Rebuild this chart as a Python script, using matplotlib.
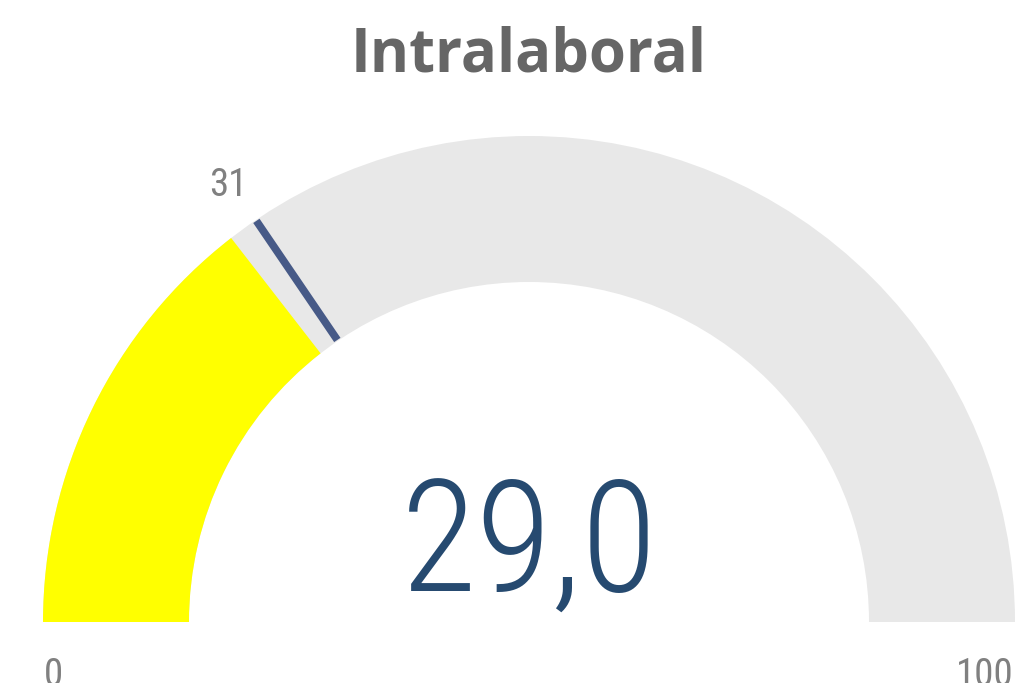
import matplotlib
matplotlib.use("Agg")
import matplotlib.pyplot as plt
from matplotlib import font_manager
from matplotlib.patches import Wedge
import numpy as np

# --- dati del gauge ---
titolo = "Intralaboral"
valore = 29.0
obiettivo = 31
minimo, massimo = 0, 100

# --- geometria (in pixel) ---
W, H = 1016, 683
cx, cy = 529, H - 622
r_out, r_in = 486, 340

nomi = sorted({f.name for f in font_manager.fontManager.ttflist})
stretti = [n for n in ["Roboto Condensed", "Liberation Sans Narrow", "Open Sans Condensed"] if n in nomi]
font_num = stretti[0] if stretti else "Roboto"

def angolo(v):
    return 180 - (v - minimo) / (massimo - minimo) * 180

fig = plt.figure(figsize=(W / 100, H / 100), dpi=100)
ax = fig.add_axes([0, 0, 1, 1])
ax.set_xlim(0, W); ax.set_ylim(0, H)
ax.set_aspect("equal"); ax.axis("off")

# sfondo grigio e valore giallo
ax.add_patch(Wedge((cx, cy), r_out, 0, 180, width=r_out - r_in, color="#e8e8e8", lw=0))
ax.add_patch(Wedge((cx, cy), r_out, angolo(valore), 180, width=r_out - r_in, color="#ffff00", lw=0))

# linea obiettivo
a = np.radians(angolo(obiettivo))
ax.plot([cx + (r_in + 1) * np.cos(a), cx + (r_out - 1) * np.cos(a)],
        [cy + (r_in + 1) * np.sin(a), cy + (r_out - 1) * np.sin(a)],
        color="#475a87", lw=5.5, solid_capstyle="butt")
ax.text(cx + 528 * np.cos(a) - 4, cy + 528 * np.sin(a), f"{obiettivo}",
        ha="center", va="center", fontsize=28, color="#808080", family=font_num)

# testi
ax.text(cx, H - 72, titolo, ha="center", va="baseline", fontsize=43,
        fontweight="bold", color="#666666", family="Open Sans")
ax.text(cx, H - 592, f"{valore:.1f}".replace(".", ","), ha="center", va="baseline",
        fontsize=112, fontweight="light", color="#264a70", family=font_num)
ax.text(44, H - 657, f"{minimo}", ha="left", va="top", fontsize=28, color="#808080", family=font_num)
ax.text(1014, H - 657, f"{massimo}", ha="right", va="top", fontsize=28, color="#808080", family=font_num)

fig.savefig("out.png", dpi=100)
